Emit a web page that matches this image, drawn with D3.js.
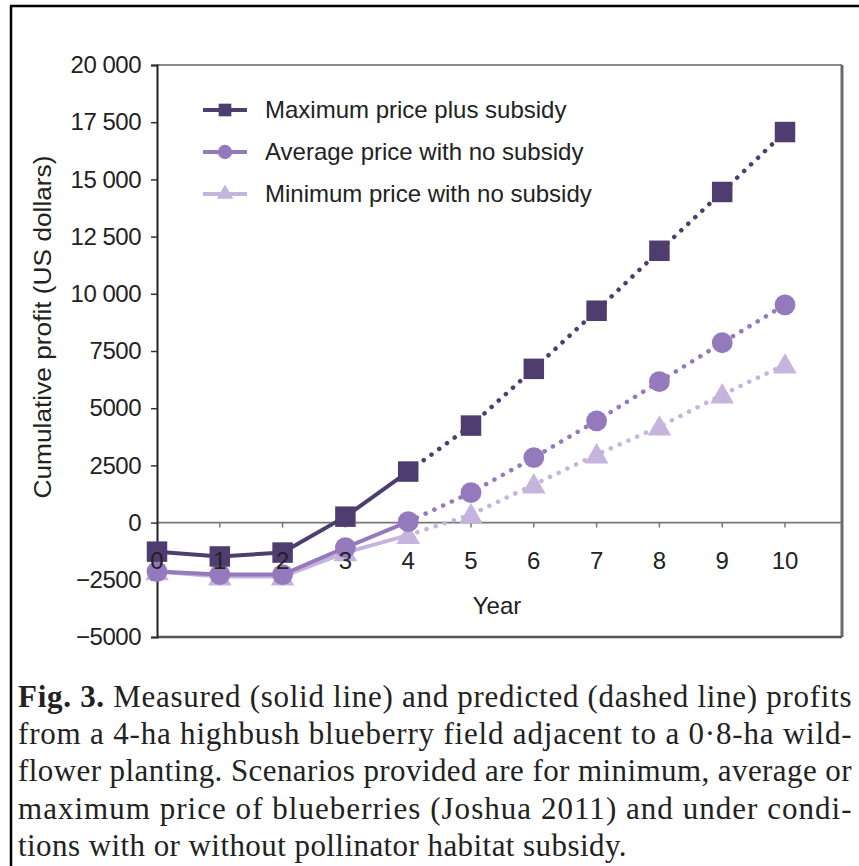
<!DOCTYPE html>
<html>
<head>
<meta charset="utf-8">
<script src="https://cdn.jsdelivr.net/npm/d3@7"></script>
<style>
  body { margin: 0; background: #fff; }
  svg { display: block; }
</style>
</head>
<body>
<div id="chart"></div>
<script>
// values
const years = [0, 1, 2, 3, 4, 5, 6, 7, 8, 9, 10];
const maxSubsidy = [-1270, -1480, -1310, 260, 2230, 4240, 6720, 9260, 11880, 14450, 17070];
const avgNoSubsidy = [-2140, -2270, -2270, -1090, 40, 1310, 2840, 4450, 6160, 7860, 9520];
const minNoSubsidy = [-2140, -2360, -2360, -1310, -550, 350, 1660, 2970, 4190, 5590, 6900];
const measuredUntil = 4; // solid up to year 4, dotted after

const seriesNames = ["Maximum price plus subsidy", "Average price with no subsidy", "Minimum price with no subsidy"];
const yTicks = [20000, 17500, 15000, 12500, 10000, 7500, 5000, 2500, 0, -2500, -5000];
const yTickLabels = ["20 000", "17 500", "15 000", "12 500", "10 000", "7500", "5000", "2500", "0", "\u22122500", "\u22125000"];
const xTickLabels = ["0", "1", "2", "3", "4", "5", "6", "7", "8", "9", "10"];
const captionLines = [
  "Measured (solid line) and predicted (dashed line) profits",
  "from a 4-ha highbush blueberry field adjacent to a 0\u00b78-ha wild-",
  "flower planting. Scenarios provided are for minimum, average or",
  "maximum price of blueberries (Joshua 2011) and under condi-",
  "tions with or without pollinator habitat subsidy."
];

const SANS = "'Liberation Sans', Arial, Helvetica, sans-serif";
const SERIF = "'Liberation Serif', 'Times New Roman', Times, serif";

const W = 859, H = 866;
const svg = d3.select("#chart").append("svg")
  .attr("width", W).attr("height", H);

// outer frame (left + top only visible)
svg.append("line").attr("x1", 11).attr("x2", 11).attr("y1", 6).attr("y2", H)
  .attr("stroke", "#000").attr("stroke-width", 2.5);
svg.append("line").attr("x1", 10).attr("x2", W).attr("y1", 6).attr("y2", 6)
  .attr("stroke", "#000").attr("stroke-width", 2.5);

const x = d3.scaleLinear().domain([0, 10]).range([157, 785]);
const y = d3.scaleLinear().domain([-5000, 20000]).range([637, 65]);
const plotRight = 842;

// plot box
svg.append("line").attr("x1", x(0)).attr("x2", plotRight).attr("y1", y(20000)).attr("y2", y(20000))
  .attr("stroke", "#8a8a8a").attr("stroke-width", 2);
svg.append("line").attr("x1", plotRight).attr("x2", plotRight).attr("y1", y(20000)).attr("y2", y(-5000))
  .attr("stroke", "#6a6a6a").attr("stroke-width", 3);
svg.append("line").attr("x1", x(0)).attr("x2", plotRight).attr("y1", y(-5000)).attr("y2", y(-5000))
  .attr("stroke", "#555").attr("stroke-width", 2.5);

// zero line + year ticks
svg.append("line").attr("x1", x(0)).attr("x2", plotRight).attr("y1", y(0)).attr("y2", y(0))
  .attr("stroke", "#777").attr("stroke-width", 1.8);
svg.selectAll(".xtick").data(years.slice(1)).enter().append("line")
  .attr("x1", d => x(d)).attr("x2", d => x(d))
  .attr("y1", y(0)).attr("y2", y(0) + 5)
  .attr("stroke", "#777").attr("stroke-width", 1.5);

// y axis
const yAxis = svg.append("g")
  .attr("transform", "translate(" + x(0) + ",0)")
  .call(d3.axisLeft(y).tickValues(yTicks).tickSize(6).tickPadding(10)
    .tickFormat((d, i) => yTickLabels[i]));
yAxis.select(".domain").attr("stroke", "#222").attr("stroke-width", 2);
yAxis.selectAll(".tick line").attr("stroke", "#333").attr("stroke-width", 1.5);
yAxis.selectAll("text")
  .attr("font-family", SANS)
  .attr("font-size", 24).attr("fill", "#222").attr("letter-spacing", -0.5);

svg.append("text")
  .attr("transform", "translate(51,327) rotate(-90)")
  .attr("text-anchor", "middle")
  .attr("font-family", SANS)
  .attr("font-size", 23).attr("fill", "#222")
  .attr("textLength", 343).attr("lengthAdjust", "spacingAndGlyphs")
  .text("Cumulative profit (US dollars)");

// series
const colors = ["#4e3d6e", "#9579bd", "#c5b4dd"];
const series = [
  { name: seriesNames[2], values: minNoSubsidy, color: colors[2], shape: "triangle" },
  { name: seriesNames[1], values: avgNoSubsidy, color: colors[1], shape: "circle" },
  { name: seriesNames[0], values: maxSubsidy, color: colors[0], shape: "square" }
];

const line = d3.line().x(d => x(d.year)).y(d => y(d.v));

function symbolPath(shape) {
  if (shape === "square") return d3.symbol().type(d3.symbolSquare).size(420)();
  if (shape === "circle") return d3.symbol().type(d3.symbolCircle).size(340)();
  return d3.symbol().type(d3.symbolTriangle).size(240)();
}

series.forEach(s => {
  const pts = years.map((yr, i) => ({ year: yr, v: s.values[i] }));
  svg.append("path")
    .datum(pts.filter(p => p.year <= measuredUntil))
    .attr("d", line).attr("fill", "none")
    .attr("stroke", s.color).attr("stroke-width", 4);
  svg.append("path")
    .datum(pts.filter(p => p.year >= measuredUntil))
    .attr("d", line).attr("fill", "none")
    .attr("stroke", s.color).attr("stroke-width", 4.5)
    .attr("stroke-linecap", "round")
    .attr("stroke-dasharray", "0.1 9.5");
  svg.selectAll(null).data(pts).enter().append("path")
    .attr("d", symbolPath(s.shape))
    .attr("transform", d => "translate(" + x(d.year) + "," + (y(d.v) + (s.shape === "triangle" ? 2 : 0)) + ")")
    .attr("fill", s.color);
});

// year labels (drawn over the markers)
svg.selectAll(".xlab").data(years).enter().append("text")
  .attr("x", d => x(d)).attr("y", y(0) + 46)
  .attr("text-anchor", "middle")
  .attr("font-family", SANS)
  .attr("font-size", 24).attr("fill", "#222")
  .text((d, i) => xTickLabels[i]);

svg.append("text")
  .attr("x", 497).attr("y", 614)
  .attr("text-anchor", "middle")
  .attr("font-family", SANS)
  .attr("font-size", 24).attr("fill", "#222")
  .text("Year");

// legend
const legend = svg.selectAll(".leg").data(seriesNames).enter().append("g")
  .attr("transform", (d, i) => "translate(0," + (110 + i * 42) + ")");
legend.append("line")
  .attr("x1", 203).attr("x2", 247).attr("y1", 0).attr("y2", 0)
  .attr("stroke", (d, i) => colors[i]).attr("stroke-width", 4);
legend.append("path")
  .attr("d", (d, i) => d3.symbol()
    .type([d3.symbolSquare, d3.symbolCircle, d3.symbolTriangle][i])
    .size([160, 160, 120][i])())
  .attr("transform", "translate(225,0)")
  .attr("fill", (d, i) => colors[i]);
legend.append("text")
  .attr("x", 265).attr("y", 8)
  .attr("font-family", SANS)
  .attr("font-size", 24).attr("fill", "#222")
  .text(d => d);

// caption: slight letter spacing, first four lines justified
const cap = svg.append("g");
const capLines = cap.selectAll("text").data(captionLines).enter().append("text")
  .attr("x", 18).attr("y", (d, i) => 707 + i * 37.2)
  .attr("font-family", SERIF)
  .attr("font-size", 31).attr("fill", "#222");
capLines.each(function (d, i) {
  const t = d3.select(this);
  if (i === 0) {
    t.append("tspan").attr("font-weight", "bold").text("Fig. 3. ");
  }
  t.append("tspan").text(d);
});
const last = captionLines[captionLines.length - 1];
const lastNode = capLines.filter((d, i) => i === captionLines.length - 1).node();
const ls = Math.max(0, (609 - lastNode.getComputedTextLength()) / last.length);
capLines.attr("letter-spacing", ls);
capLines.filter((d, i) => i < captionLines.length - 1)
  .attr("textLength", 834).attr("lengthAdjust", "spacing");
</script>
</body>
</html>
